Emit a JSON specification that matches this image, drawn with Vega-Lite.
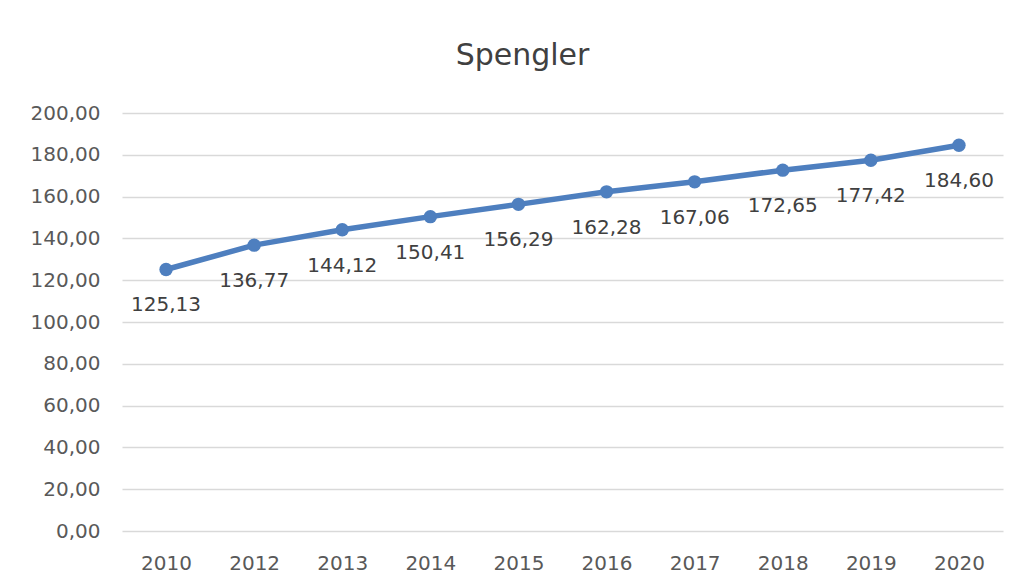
{
  "$schema": "https://vega.github.io/schema/vega-lite/v6.json",
  "autosize": "none",
  "width": 881,
  "height": 418,
  "padding": {"left": 122, "top": 113, "right": 20, "bottom": 54},
  "background": "white",
  "title": {"text": "Spengler", "anchor": "middle", "frame": "group", "dx": -40, "offset": 32, "fontSize": 30, "font": "DejaVu Sans", "fontWeight": "normal", "color": "#404040"},
  "config": {
    "locale": {"number": {"decimal": ",", "thousands": ".", "grouping": [3], "currency": ["", " €"]}},
    "view": {"stroke": null},
    "font": "DejaVu Sans"
  },
  "data": {"values": [
    {"year": "2010", "value": 125.13},
    {"year": "2012", "value": 136.77},
    {"year": "2013", "value": 144.12},
    {"year": "2014", "value": 150.41},
    {"year": "2015", "value": 156.29},
    {"year": "2016", "value": 162.28},
    {"year": "2017", "value": 167.06},
    {"year": "2018", "value": 172.65},
    {"year": "2019", "value": 177.42},
    {"year": "2020", "value": 184.60}
  ]},
  "encoding": {
    "x": {"field": "year", "type": "ordinal", "scale": {"type": "point", "padding": 0.5},
      "axis": {"title": null, "labelAngle": 0, "ticks": false, "domain": false, "labelPadding": 22, "labelFontSize": 20, "labelColor": "#595959", "labelFont": "DejaVu Sans"}},
    "y": {"field": "value", "type": "quantitative", "scale": {"domain": [0, 200], "nice": false},
      "axis": {"title": null, "values": [0, 20, 40, 60, 80, 100, 120, 140, 160, 180, 200], "format": ".2f", "ticks": false, "domain": false, "gridColor": "#d9d9d9", "gridWidth": 1.5, "labelPadding": 22, "labelFontSize": 20, "labelColor": "#595959", "labelFont": "DejaVu Sans"}}
  },
  "layer": [
    {"mark": {"type": "line", "color": "#4E7FBF", "strokeWidth": 5.5, "point": {"filled": true, "size": 180, "color": "#4E7FBF", "opacity": 1}}},
    {"mark": {"type": "text", "dy": 36, "fontSize": 20, "color": "#404040", "font": "DejaVu Sans"},
      "encoding": {"text": {"field": "value", "type": "quantitative", "format": ".2f"}}}
  ]
}
